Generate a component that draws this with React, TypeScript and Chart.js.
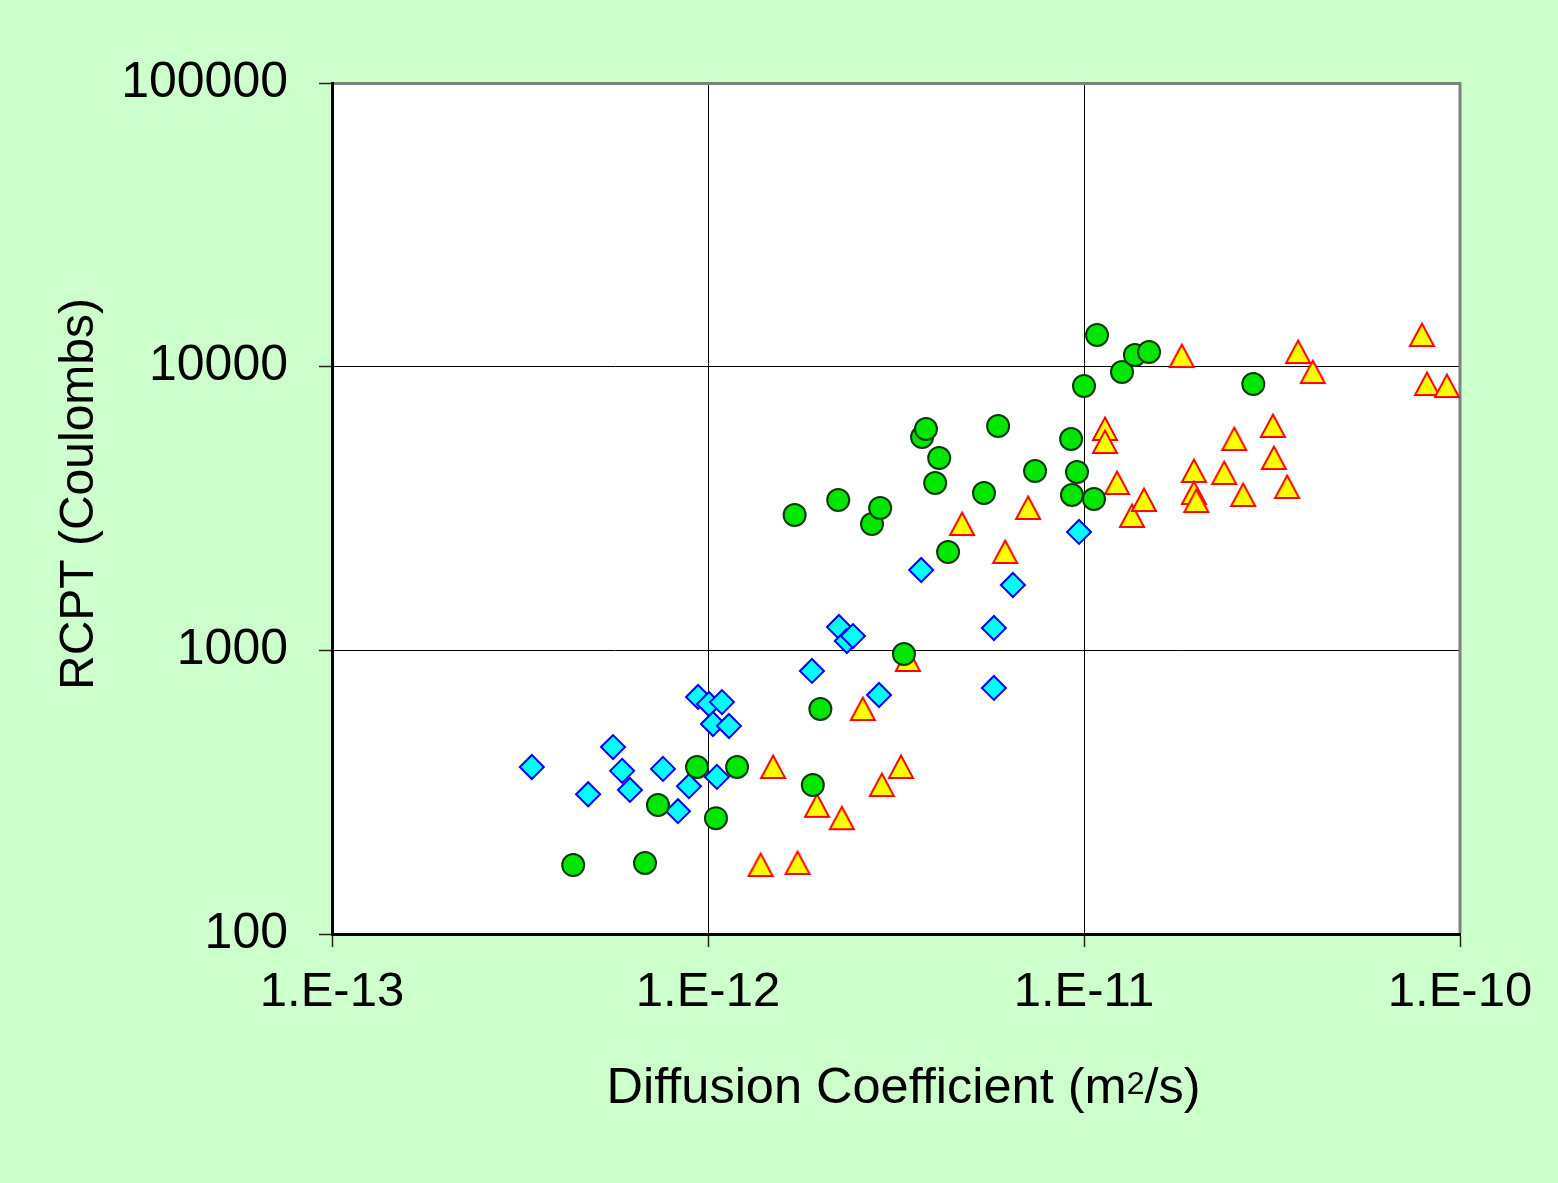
import React, { useEffect, useRef } from 'react';
import { Chart, registerables } from 'chart.js';

Chart.register(...registerables);

const W = 1558;
const H = 1183;
const FONT = '"Liberation Sans", Arial, sans-serif';

// Axis ticks
const xTickValues = [1e-13, 1e-12, 1e-11, 1e-10];
const xTickLabels = ['1.E-13', '1.E-12', '1.E-11', '1.E-10'];
const yTickValues = [100, 1000, 10000, 100000];
const yTickLabels = ['100', '1000', '10000', '100000'];

// Titles
const yTitle = 'RCPT (Coulombs)';
const xTitleMain = 'Diffusion Coefficient (m';
const xTitleSup = '2';
const xTitleEnd = '/s)';

// Series 1: cyan diamonds
const diamondX = [3.40e-13, 4.80e-13, 5.59e-13, 5.91e-13, 6.20e-13, 7.59e-13, 8.32e-13, 8.90e-13, 9.41e-13, 1.006e-12, 1.031e-12, 1.056e-12, 1.089e-12, 1.137e-12, 1.89e-12, 2.23e-12, 2.34e-12, 2.43e-12, 2.85e-12, 3.69e-12, 5.76e-12, 5.76e-12, 6.47e-12, 9.70e-12];
const diamondY = [388, 311, 456, 376, 322, 382, 271, 332, 685, 647, 550, 358, 657, 541, 846, 1209, 1079, 1123, 696, 1920, 1199, 737, 1700, 2614];

// Series 2: green circles
const circleX = [4.38e-13, 6.80e-13, 7.36e-13, 9.35e-13, 1.050e-12, 1.195e-12, 1.70e-12, 1.90e-12, 1.99e-12, 2.22e-12, 2.73e-12, 2.87e-12, 3.32e-12, 3.71e-12, 3.80e-12, 4.02e-12, 4.12e-12, 4.35e-12, 5.42e-12, 5.91e-12, 7.41e-12, 9.24e-12, 9.29e-12, 9.58e-12, 1.0e-11, 1.063e-11, 1.083e-11, 1.262e-11, 1.366e-11, 1.489e-11, 2.82e-11];
const circleY = [175, 178, 285, 388, 256, 388, 3000, 335, 621, 3388, 2788, 3176, 971, 5651, 6030, 3890, 4764, 2222, 3586, 6178, 4289, 5559, 3529, 4254, 8547, 3416, 12930, 9576, 10990, 11260, 8687];

// Series 3: yellow triangles
const triangleX = [1.38e-12, 1.49e-12, 1.73e-12, 1.95e-12, 2.27e-12, 2.58e-12, 2.90e-12, 3.26e-12, 3.40e-12, 4.74e-12, 6.17e-12, 7.10e-12, 1.137e-11, 1.137e-11, 1.224e-11, 1.342e-11, 1.444e-11, 1.82e-11, 1.96e-11, 1.96e-11, 1.99e-11, 2.36e-11, 2.51e-11, 2.65e-11, 3.18e-11, 3.20e-11, 3.47e-11, 3.71e-11, 4.06e-11, 7.92e-11, 8.17e-11, 9.23e-11];
const triangleY = [175, 388, 178, 283, 256, 621, 335, 388, 925, 2788, 2222, 3176, 6030, 5425, 3890, 2976, 3388, 10900, 4289, 3586, 3360, 4219, 5559, 3529, 6178, 4764, 3766, 11260, 9576, 12930, 8687, 8547];

const toPoints = (xs: number[], ys: number[]) => xs.map((x, i) => ({ x, y: ys[i] }));

export default function App() {
  const ref = useRef<HTMLCanvasElement | null>(null);

  useEffect(() => {
    document.body.style.margin = '0';
    const canvas = ref.current;
    if (!canvas) return;

    const tri = document.createElement('canvas');
    tri.width = 28;
    tri.height = 28;
    const t = tri.getContext('2d')!;
    t.beginPath();
    t.moveTo(14, 2.5);
    t.lineTo(26, 25);
    t.lineTo(2, 25);
    t.closePath();
    t.fillStyle = '#FFFF00';
    t.fill();
    t.lineWidth = 2;
    t.strokeStyle = '#FF0000';
    t.stroke();

    const bgPlugin = {
      id: 'bgPlugin',
      beforeDraw(chart: any) {
        const { ctx, chartArea } = chart;
        ctx.save();
        ctx.fillStyle = '#CCFFCC';
        ctx.fillRect(0, 0, W, H);
        ctx.fillStyle = '#FFFFFF';
        ctx.fillRect(chartArea.left, chartArea.top, chartArea.right - chartArea.left, chartArea.bottom - chartArea.top);
        ctx.restore();
      },
      beforeDatasetsDraw(chart: any) {
        const { ctx, chartArea } = chart;
        ctx.save();
        ctx.strokeStyle = '#808080';
        ctx.lineWidth = 3;
        ctx.beginPath();
        ctx.moveTo(chartArea.left + 2, chartArea.top + 0.5);
        ctx.lineTo(chartArea.right + 1.5, chartArea.top + 0.5);
        ctx.moveTo(chartArea.right, chartArea.top);
        ctx.lineTo(chartArea.right, chartArea.bottom - 1);
        ctx.stroke();
        ctx.restore();
      },
      afterDraw(chart: any) {
        const { ctx } = chart;
        ctx.save();
        ctx.fillStyle = '#000000';
        // y title
        ctx.font = `48px ${FONT}`;
        ctx.textAlign = 'center';
        ctx.textBaseline = 'alphabetic';
        ctx.translate(93, 494);
        ctx.rotate(-Math.PI / 2);
        ctx.fillText(yTitle, 0, 0);
        ctx.setTransform(1, 0, 0, 1, 0, 0);
        // x title with superscript
        const mainFont = `50.5px ${FONT}`;
        const supFont = `32px ${FONT}`;
        ctx.textAlign = 'left';
        ctx.font = mainFont;
        const w1 = ctx.measureText(xTitleMain).width;
        const w3 = ctx.measureText(xTitleEnd).width;
        ctx.font = supFont;
        const w2 = ctx.measureText(xTitleSup).width;
        const total = w1 + w2 + w3;
        let x = 903.5 - total / 2;
        const base = 1103;
        ctx.font = mainFont;
        ctx.fillText(xTitleMain, x, base);
        x += w1;
        ctx.font = supFont;
        ctx.fillText(xTitleSup, x, base - 9);
        x += w2;
        ctx.font = mainFont;
        ctx.fillText(xTitleEnd, x, base);
        ctx.restore();
      },
    };

    const chart = new Chart(canvas, {
      type: 'scatter',
      data: {
        datasets: [
          {
            label: 'Circles',
            data: toPoints(circleX, circleY),
            pointStyle: 'circle',
            pointRadius: 11,
            pointHoverRadius: 11,
            backgroundColor: '#00E600',
            borderColor: '#0A3A0A',
            borderWidth: 2,
            order: 0,
            clip: false,
          },
          {
            label: 'Diamonds',
            data: toPoints(diamondX, diamondY),
            pointStyle: 'rectRot',
            pointRadius: 12,
            pointHoverRadius: 12,
            backgroundColor: '#00FFFF',
            borderColor: '#0000FF',
            borderWidth: 2,
            order: 1,
            clip: false,
          },
          {
            label: 'Triangles',
            data: toPoints(triangleX, triangleY),
            pointStyle: tri,
            pointRadius: 12,
            pointHoverRadius: 12,
            backgroundColor: '#FFFF00',
            borderColor: '#FF0000',
            borderWidth: 2,
            order: 2,
            clip: false,
          },
        ] as any,
      },
      options: {
        responsive: false,
        animation: false,
        devicePixelRatio: 1,
        layout: { padding: { left: 0, top: 83, right: 98, bottom: 0 } },
        plugins: {
          legend: { display: false },
          tooltip: { enabled: false },
          title: { display: false },
        },
        scales: {
          x: {
            type: 'logarithmic',
            position: 'bottom',
            min: 1e-13,
            max: 1e-10,
            afterFit: (s: any) => {
              s.height = 249;
            },
            afterBuildTicks: (s: any) => {
              s.ticks = xTickValues.map((v) => ({ value: v }));
            },
            ticks: {
              autoSkip: false,
              maxRotation: 0,
              minRotation: 0,
              padding: 16,
              color: '#000000',
              font: { family: FONT, size: 49 },
              callback: (_v: any, i: number) => xTickLabels[i],
            },
            grid: { color: '#000000', lineWidth: 1, tickLength: 13, tickColor: '#222222', tickWidth: 1.5 },
            border: { color: '#000000', width: 3 },
            title: { display: false },
          },
          y: {
            type: 'logarithmic',
            position: 'left',
            min: 100,
            max: 100000,
            afterFit: (s: any) => {
              s.width = 332;
            },
            afterBuildTicks: (s: any) => {
              s.ticks = yTickValues.map((v) => ({ value: v }));
            },
            ticks: {
              autoSkip: false,
              padding: 31,
              color: '#000000',
              font: { family: FONT, size: 50 },
              callback: (_v: any, i: number) => yTickLabels[i],
            },
            grid: { color: '#000000', lineWidth: 1, tickLength: 13, tickColor: '#222222', tickWidth: 1.5 },
            border: { color: '#000000', width: 3 },
            title: { display: false },
          },
        },
      } as any,
      plugins: [bgPlugin],
    });

    return () => {
      chart.destroy();
    };
  }, []);

  return (
    <div style={{ width: W, height: H }}>
      <canvas ref={ref} width={W} height={H} style={{ display: 'block', width: W, height: H }} />
    </div>
  );
}
